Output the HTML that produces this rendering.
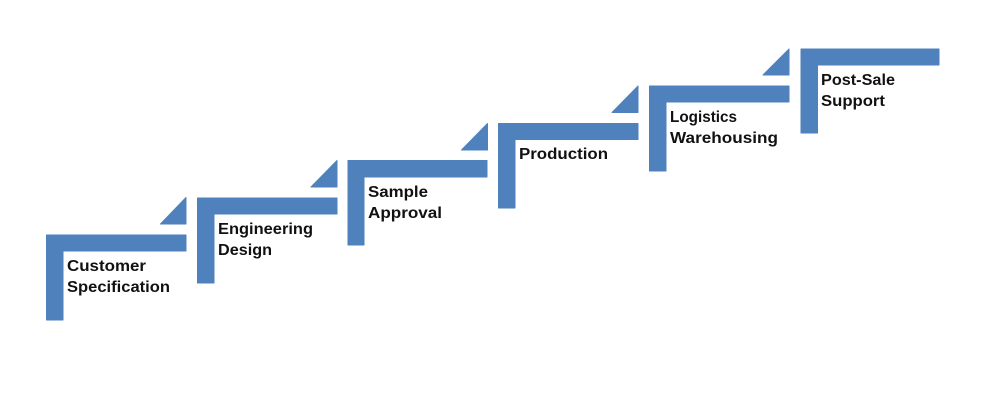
<!DOCTYPE html>
<html>
<head>
<meta charset="utf-8">
<style>
html,body{margin:0;padding:0;background:#fff;}
svg{display:block;}
text{font-family:"Liberation Sans",sans-serif;font-weight:bold;font-size:16px;fill:#111;}
</style>
</head>
<body>
<svg width="1000" height="406" viewBox="0 0 1000 406" xmlns="http://www.w3.org/2000/svg">
<g fill="#4f81bd" stroke="#4f81bd" stroke-width="1" stroke-linejoin="round">
<path d="M46.5 235H186V251H63V320H46.5Z"/>
<path d="M160.5 224L186 197.5V224Z"/>
<path d="M197.5 198H337V214H214V283H197.5Z"/>
<path d="M311 187L337 160.5V187Z"/>
<path d="M348 160.5H487V177H364V245H348Z"/>
<path d="M461.5 150L487.5 123.500V150Z"/>
<path d="M498.500 123.500H638V139.500H515V208H498.500Z"/>
<path d="M612 112.500L638 86V112.500Z"/>
<path d="M649.500 86H789V102H666V171H649.500Z"/>
<path d="M763 75L789 49V75Z"/>
<path d="M801 49H939V65H817.500V133H801Z"/>
</g>
<text x="67" y="271" textLength="79" lengthAdjust="spacingAndGlyphs">Customer</text>
<text x="67" y="292" textLength="103" lengthAdjust="spacingAndGlyphs">Specification</text>
<text x="218" y="234" textLength="95" lengthAdjust="spacingAndGlyphs">Engineering</text>
<text x="218" y="255" textLength="54" lengthAdjust="spacingAndGlyphs">Design</text>
<text x="368" y="197" textLength="60" lengthAdjust="spacingAndGlyphs">Sample</text>
<text x="368" y="218" textLength="74" lengthAdjust="spacingAndGlyphs">Approval</text>
<text x="519" y="159" textLength="89" lengthAdjust="spacingAndGlyphs">Production</text>
<text x="670" y="122" textLength="67" lengthAdjust="spacingAndGlyphs">Logistics</text>
<text x="670" y="143" textLength="108" lengthAdjust="spacingAndGlyphs">Warehousing</text>
<text x="821" y="85" textLength="74" lengthAdjust="spacingAndGlyphs">Post-Sale</text>
<text x="821" y="106" textLength="64" lengthAdjust="spacingAndGlyphs">Support</text>
</svg>
</body>
</html>
